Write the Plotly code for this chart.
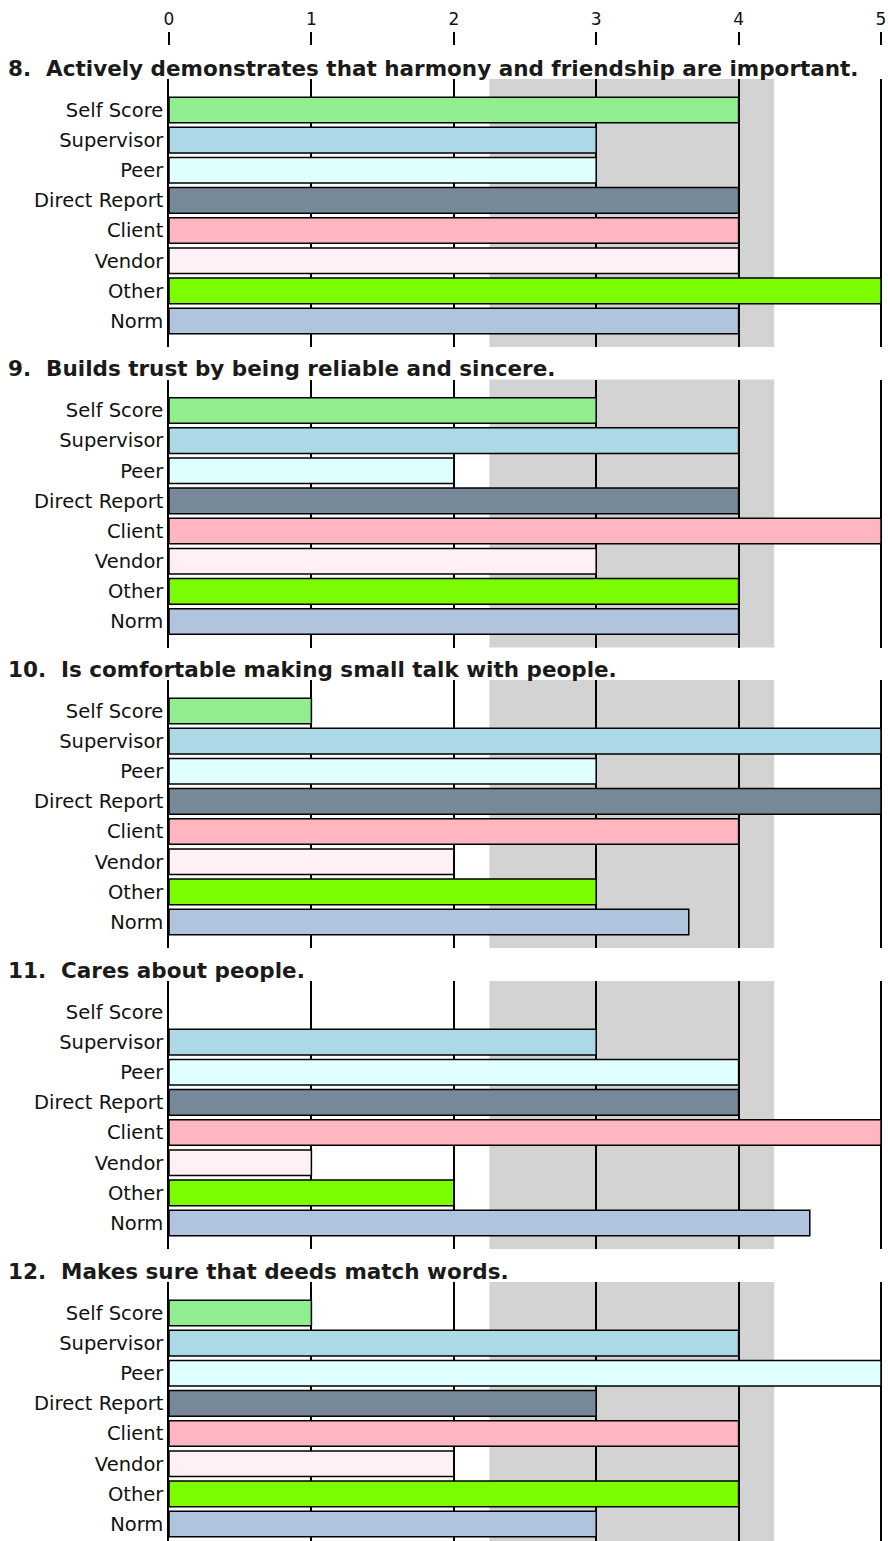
import plotly.graph_objects as go

raters = ["Self Score", "Supervisor", "Peer", "Direct Report", "Client", "Vendor", "Other", "Norm"]
rater_colors = ["#90EE90", "#ADD8E6", "#E0FFFF", "#778899", "#FFB6C1", "#FFF0F5", "#7CFC00", "#B0C4DE"]

questions = [
    "8.\u00a0\u00a0Actively demonstrates that harmony and friendship are important.",
    "9.\u00a0\u00a0Builds trust by being reliable and sincere.",
    "10.\u00a0\u00a0Is comfortable making small talk with people.",
    "11.\u00a0\u00a0Cares about people.",
    "12.\u00a0\u00a0Makes sure that deeds match words.",
]

q8_scores = [4, 3, 3, 4, 4, 4, 5, 4]
q9_scores = [3, 4, 2, 4, 5, 3, 4, 4]
q10_scores = [1, 5, 3, 5, 4, 2, 3, 3.65]
q11_scores = [None, 3, 4, 4, 5, 1, 2, 4.5]
q12_scores = [1, 4, 5, 3, 4, 2, 4, 3]
all_scores = [q8_scores, q9_scores, q10_scores, q11_scores, q12_scores]

tick_vals = [0, 1, 2, 3, 4, 5]
band_low, band_high = 2.25, 4.25

W, H = 888, 1541
L = 169
R = 3
px_per_unit = 142.4
x_max = (W - L - R) / px_per_unit

panel_tops = [79, 379.5, 680, 981, 1282]
panel_h = 268
row_px = 30.14

fig = go.Figure()
layout = dict(
    width=W, height=H,
    margin=dict(l=L, r=R, t=0, b=0, autoexpand=False),
    paper_bgcolor="white", plot_bgcolor="white",
    showlegend=False,
    shapes=[], annotations=[],
)

for i, (q, sc) in enumerate(zip(questions, all_scores)):
    n = i + 1
    xa = "x" if n == 1 else f"x{n}"
    ya = "y" if n == 1 else f"y{n}"
    top = panel_tops[i]
    bottom = min(top + panel_h, H)
    r_top = -(31 / row_px)
    r_bot = r_top + (bottom - top) / row_px
    fig.add_trace(go.Bar(
        x=sc, y=raters, orientation="h", width=0.85,
        marker=dict(color=rater_colors, line=dict(color="black", width=1.5)),
        xaxis=xa, yaxis=ya, hoverinfo="x+y",
    ))
    layout[f"xaxis{n if n > 1 else ''}"] = dict(
        domain=[0, 1], range=[0, x_max], anchor=ya,
        tickvals=tick_vals, showticklabels=False, ticks="",
        showgrid=True, gridcolor="black", gridwidth=1.5,
        zeroline=False, showline=False, fixedrange=True,
    )
    layout[f"yaxis{n if n > 1 else ''}"] = dict(
        domain=[1 - bottom / H, 1 - top / H], anchor=xa,
        type="category", range=[r_bot, r_top],
        showgrid=False, zeroline=False, ticks="",
        showline=True, linecolor="black", linewidth=1.5,
        tickfont=dict(family="DejaVu Sans", size=19.5, color="#111111"),
        ticklabelstandoff=0, fixedrange=True,
    )
    layout["shapes"].append(dict(
        type="rect", xref=xa, yref=f"{ya} domain",
        x0=band_low, x1=band_high, y0=0, y1=1,
        fillcolor="#D3D3D3", line=dict(width=0), layer="below",
    ))
    layout["annotations"].append(dict(
        text=f"<b>{q}</b>", xref="paper", yref="paper",
        x=(6 - L) / (W - L - R), y=1 - (top - 11) / H,
        xanchor="left", yanchor="middle", showarrow=False,
        font=dict(family="DejaVu Sans", size=21.5, color="#1a1a1a"),
    ))

# top scale axis (invisible carrier trace so the axis is drawn)
fig.add_trace(go.Scatter(
    x=tick_vals, y=[0] * len(tick_vals), mode="markers",
    marker=dict(opacity=0), xaxis="x6", yaxis="y6", hoverinfo="skip",
))
layout["xaxis6"] = dict(
    domain=[0, 1], range=[0, x_max], anchor="y6", side="top",
    tickvals=tick_vals, ticktext=[str(v) for v in tick_vals],
    ticks="outside", ticklen=13, tickwidth=1.5, tickcolor="black",
    tickfont=dict(family="DejaVu Sans", size=17, color="#111111"),
    showgrid=False, zeroline=False, showline=False, fixedrange=True,
)
layout["yaxis6"] = dict(
    domain=[1 - 47 / H, 1 - 46 / H], anchor="x6", visible=False,
    showgrid=False, zeroline=False, fixedrange=True,
)

fig.update_layout(**layout)
fig.write_html(
    "out.html",
    config={"displayModeBar": False},
    post_script="document.body.style.margin='0px';document.body.style.overflow='hidden';"
                "document.documentElement.style.overflow='hidden';",
)
